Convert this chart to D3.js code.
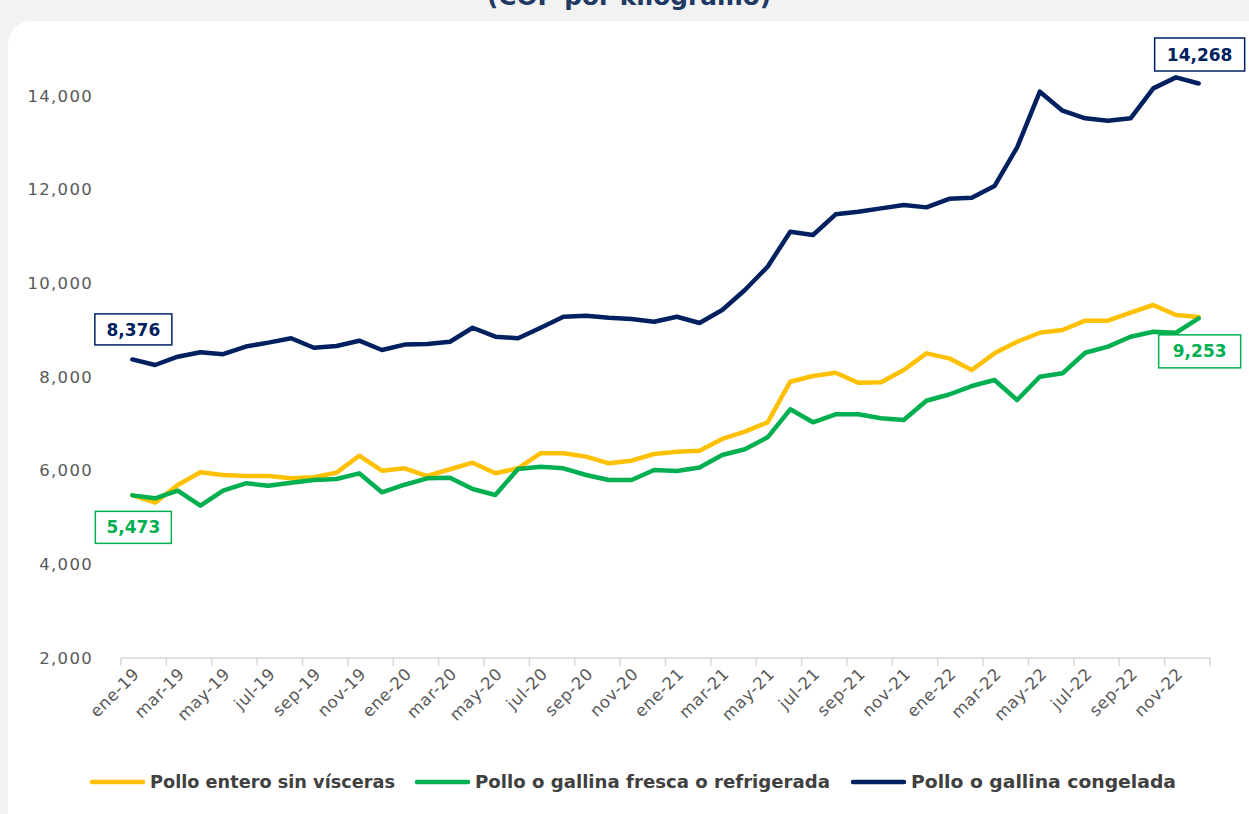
<!DOCTYPE html>
<html>
<head>
<meta charset="utf-8">
<script src="https://cdn.jsdelivr.net/npm/d3@7"></script>
<style>
  html, body { margin: 0; padding: 0; background: #f2f2f2; }
  svg { display: block; }
</style>
</head>
<body>
<svg id="chart" width="1249" height="814"></svg>
<script>
// Monthly price series, ene-19 .. dic-22 (COP por kilogramo)
const months = [
  "ene-19","feb-19","mar-19","abr-19","may-19","jun-19","jul-19","ago-19","sep-19","oct-19","nov-19","dic-19",
  "ene-20","feb-20","mar-20","abr-20","may-20","jun-20","jul-20","ago-20","sep-20","oct-20","nov-20","dic-20",
  "ene-21","feb-21","mar-21","abr-21","may-21","jun-21","jul-21","ago-21","sep-21","oct-21","nov-21","dic-21",
  "ene-22","feb-22","mar-22","abr-22","may-22","jun-22","jul-22","ago-22","sep-22","oct-22","nov-22","dic-22"
];

const polloEntero = [
  5480, 5317, 5694, 5966, 5908, 5886, 5886, 5837, 5859, 5958, 6320, 6000,
  6051, 5886, 6030, 6171, 5944, 6051, 6373, 6373, 6300, 6158, 6213, 6356,
  6405, 6427, 6677, 6833, 7033, 7900, 8022, 8092, 7879, 7887, 8150, 8506,
  8399, 8150, 8506, 8754, 8946, 9004, 9203, 9203, 9374, 9538, 9324, 9280
];

const polloFresca = [
  5473, 5410, 5573, 5252, 5573, 5731, 5680, 5744, 5801, 5822, 5944, 5538,
  5700, 5837, 5850, 5609, 5481, 6036, 6085, 6051, 5908, 5801, 5801, 6015,
  5993, 6068, 6335, 6457, 6713, 7311, 7033, 7204, 7204, 7119, 7082, 7494,
  7627, 7808, 7936, 7509, 8007, 8079, 8519, 8648, 8861, 8968, 8946, 9253
];

const polloCongelada = [
  8376, 8257, 8434, 8530, 8487, 8650, 8735, 8828, 8626, 8662, 8776, 8577,
  8692, 8705, 8754, 9053, 8861, 8827, 9053, 9288, 9310, 9267, 9239, 9182,
  9288, 9153, 9431, 9858, 10356, 11103, 11033, 11474, 11531, 11602, 11673, 11623,
  11805, 11830, 12079, 12905, 14093, 13687, 13524, 13474, 13524, 14164, 14399, 14268
];

const seriesNames = [
  "Pollo entero sin vísceras",
  "Pollo o gallina fresca o refrigerada",
  "Pollo o gallina congelada"
];

const yTicks = [2000, 4000, 6000, 8000, 10000, 12000, 14000];

const colors = ["#FFC000", "#00B050", "#002060"];
const series = [polloEntero, polloFresca, polloCongelada];

const svg = d3.select("#chart");
const font = "'DejaVu Sans', Verdana, sans-serif";

// card panel
svg.append("rect")
  .attr("x", 8).attr("y", 21)
  .attr("width", 1270).attr("height", 830)
  .attr("rx", 24).attr("ry", 24)
  .attr("fill", "#ffffff");

// title, running off the top edge
svg.append("text")
  .attr("x", 629).attr("y", 5)
  .attr("text-anchor", "middle")
  .attr("font-family", font)
  .attr("font-weight", 700)
  .attr("font-size", 24)
  .attr("textLength", 284)
  .attr("lengthAdjust", "spacingAndGlyphs")
  .attr("fill", "#1f3864")
  .text("(COP por kilogramo)");

const x = d3.scaleBand().domain(months).range([121, 1210]);
const y = d3.scaleLinear().domain([2000, 16000]).range([658, 2.4]);
const cx = m => x(m) + x.bandwidth() / 2;

// y axis labels (no axis line, no gridlines)
const yAxis = svg.append("g")
  .attr("transform", "translate(121,0)")
  .call(d3.axisLeft(y).tickValues(yTicks).tickFormat(d3.format(",")).tickSize(0).tickPadding(28));
yAxis.select(".domain").remove();
yAxis.selectAll("text")
  .attr("font-family", font)
  .attr("font-size", 16.5)
  .attr("letter-spacing", 1.3)
  .attr("fill", "#595959");

// x axis: line with ticks every two months at category boundaries
const xAxisG = svg.append("g").attr("transform", "translate(0,658)");
xAxisG.append("line")
  .attr("x1", 121).attr("x2", 1210)
  .attr("stroke", "#d9d9d9").attr("stroke-width", 1.5);
const boundaries = d3.range(0, months.length + 1, 2);
xAxisG.selectAll("line.tick")
  .data(boundaries)
  .join("line")
  .attr("class", "tick")
  .attr("x1", i => x.range()[0] + i * x.step())
  .attr("x2", i => x.range()[0] + i * x.step())
  .attr("y1", 0).attr("y2", 8)
  .attr("stroke", "#d9d9d9").attr("stroke-width", 1.5);

const labelMonths = months.filter((m, i) => i % 2 === 0);
xAxisG.selectAll("text.mlabel")
  .data(labelMonths)
  .join("text")
  .attr("class", "mlabel")
  .attr("transform", m => `translate(${cx(m) + 8},${17}) rotate(-45)`)
  .attr("text-anchor", "end")
  .attr("font-family", font)
  .attr("font-size", 16.5)
  .attr("letter-spacing", 0.6)
  .attr("fill", "#595959")
  .text(m => m);

// series lines
const line = d3.line()
  .x((d, i) => cx(months[i]))
  .y(d => y(d));

series.forEach((s, k) => {
  svg.append("path")
    .datum(s)
    .attr("d", line)
    .attr("fill", "none")
    .attr("stroke", colors[k])
    .attr("stroke-width", 4.5)
    .attr("stroke-linejoin", "round")
    .attr("stroke-linecap", "round");
});

// boxed value labels at the first and last month
const fmt = d3.format(",");
const callouts = [
  { s: 2, i: 0, dy: -30, w: 77, h: 31 },
  { s: 1, i: 0, dy: 32, w: 76, h: 32 },
  { s: 2, i: months.length - 1, dy: -29, w: 90, h: 33 },
  { s: 1, i: months.length - 1, dy: 33, w: 82, h: 33 }
];
callouts.forEach(c => {
  const v = series[c.s][c.i];
  const px = cx(months[c.i]) + 1;
  const py = y(v) + c.dy;
  svg.append("rect")
    .attr("x", px - c.w / 2).attr("y", py - c.h / 2)
    .attr("width", c.w).attr("height", c.h)
    .attr("fill", "#ffffff")
    .attr("stroke", colors[c.s]).attr("stroke-width", 1.5);
  svg.append("text")
    .attr("x", px).attr("y", py)
    .attr("dy", "0.36em")
    .attr("text-anchor", "middle")
    .attr("font-family", font)
    .attr("font-weight", 700)
    .attr("font-size", 17)
    .attr("fill", colors[c.s])
    .text(fmt(v));
});

// legend
const legendItems = [
  { x: 92, tx: 150, w: 245 },
  { x: 417, tx: 475, w: 355 },
  { x: 853, tx: 911, w: 265 }
];
const lg = svg.append("g");
legendItems.forEach((it, k) => {
  lg.append("line")
    .attr("x1", it.x).attr("x2", it.x + 51)
    .attr("y1", 782).attr("y2", 782)
    .attr("stroke", colors[k]).attr("stroke-width", 4.5)
    .attr("stroke-linecap", "round");
  lg.append("text")
    .attr("x", it.tx).attr("y", 782)
    .attr("dy", "0.36em")
    .attr("font-family", font)
    .attr("font-weight", 700)
    .attr("font-size", 17)
    .attr("textLength", it.w)
    .attr("lengthAdjust", "spacingAndGlyphs")
    .attr("fill", "#404040")
    .text(seriesNames[k]);
});
</script>
</body>
</html>
